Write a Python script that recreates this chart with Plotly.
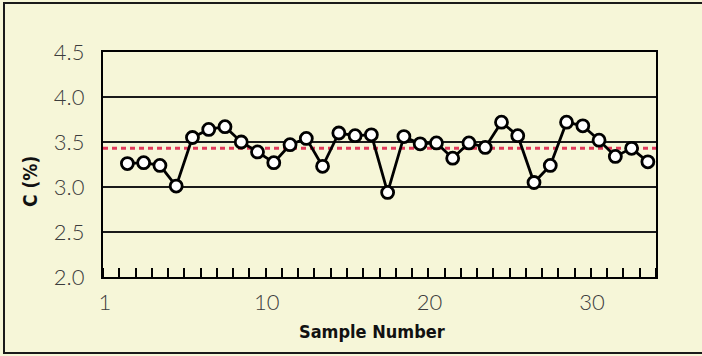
import plotly.graph_objects as go

sample_numbers = list(range(1, 34))
carbon_pct = [3.26, 3.27, 3.24, 3.01, 3.55, 3.64, 3.67, 3.50, 3.39, 3.27,
              3.47, 3.54, 3.23, 3.60, 3.57, 3.58, 2.94, 3.56, 3.48, 3.49,
              3.32, 3.49, 3.44, 3.72, 3.57, 3.05, 3.24, 3.72, 3.68, 3.52,
              3.34, 3.43, 3.28]
mean_line = 3.43
x_tick_labels = ["1", "10", "20", "30"]
y_tick_values = [2.0, 2.5, 3.0, 3.5, 4.0, 4.5]

BG = "#F6F6D8"
tick_font = dict(family="Lato, 'Open Sans', sans-serif", size=22, color="#3c3c3c", weight=300)
title_font = dict(family="'DejaVu Sans Condensed', 'Liberation Sans Narrow', sans-serif",
                  size=18, color="#111111", weight="bold")

fig = go.Figure()
fig.add_trace(go.Scatter(
    x=sample_numbers, y=carbon_pct, mode="lines+markers",
    line=dict(color="black", width=2.8),
    marker=dict(size=12, color="white", line=dict(color="black", width=2.8)),
    showlegend=False, hoverinfo="x+y",
))

fig.add_shape(type="line", xref="paper", x0=0, x1=1, yref="y", y0=mean_line, y1=mean_line,
              line=dict(color="#E23A5A", width=3, dash="5px,4px"), layer="between")

# outer frame (right side runs past the image edge, as in the reference)
fig.add_shape(type="rect", xref="paper", yref="paper",
              x0=(4 - 103) / 553, x1=(730 - 103) / 553,
              y0=(277 - 353) / 225, y1=(277 - 3) / 225,
              line=dict(color="#1a1a1a", width=2), fillcolor="rgba(0,0,0,0)", layer="below")

fig.add_annotation(text="Sample Number", xref="paper", yref="paper",
                   x=(372 - 103) / 553, y=(277 - 331) / 225, showarrow=False,
                   font=title_font, xanchor="center", yanchor="middle")
fig.add_annotation(text="C (%)", xref="paper", yref="paper",
                   x=(30 - 103) / 553, y=(277 - 182) / 225, showarrow=False,
                   font=dict(title_font, size=19), textangle=-90, xanchor="center", yanchor="middle")

fig.update_layout(
    width=702, height=356,
    margin=dict(l=103, r=46, t=52, b=79),
    paper_bgcolor=BG, plot_bgcolor=BG,
    xaxis=dict(
        range=[-0.5, 33.5],
        tickmode="array", tickvals=[-0.38, 9.57, 19.57, 29.57], ticktext=x_tick_labels,
        ticks="", showgrid=False, zeroline=False,
        showline=True, linecolor="black", linewidth=2.2, mirror=True,
        tickfont=tick_font, ticklabelstandoff=4,
        minor=dict(tickmode="linear", tick0=0.5, dtick=1, ticks="inside",
                   ticklen=9, tickwidth=2, tickcolor="black", showgrid=False),
    ),
    yaxis=dict(
        range=[2.0, 4.5],
        tickmode="array", tickvals=y_tick_values, tickformat=".1f",
        ticks="", showgrid=True, gridcolor="#1a1a1a", gridwidth=1.6, zeroline=False,
        showline=True, linecolor="black", linewidth=2.2, mirror=True,
        tickfont=tick_font, ticklabelstandoff=12,
    ),
)

fig.write_html("out.html", config={"displayModeBar": False},
               post_script="document.body.style.margin='0';document.body.style.background='%s';" % BG)
